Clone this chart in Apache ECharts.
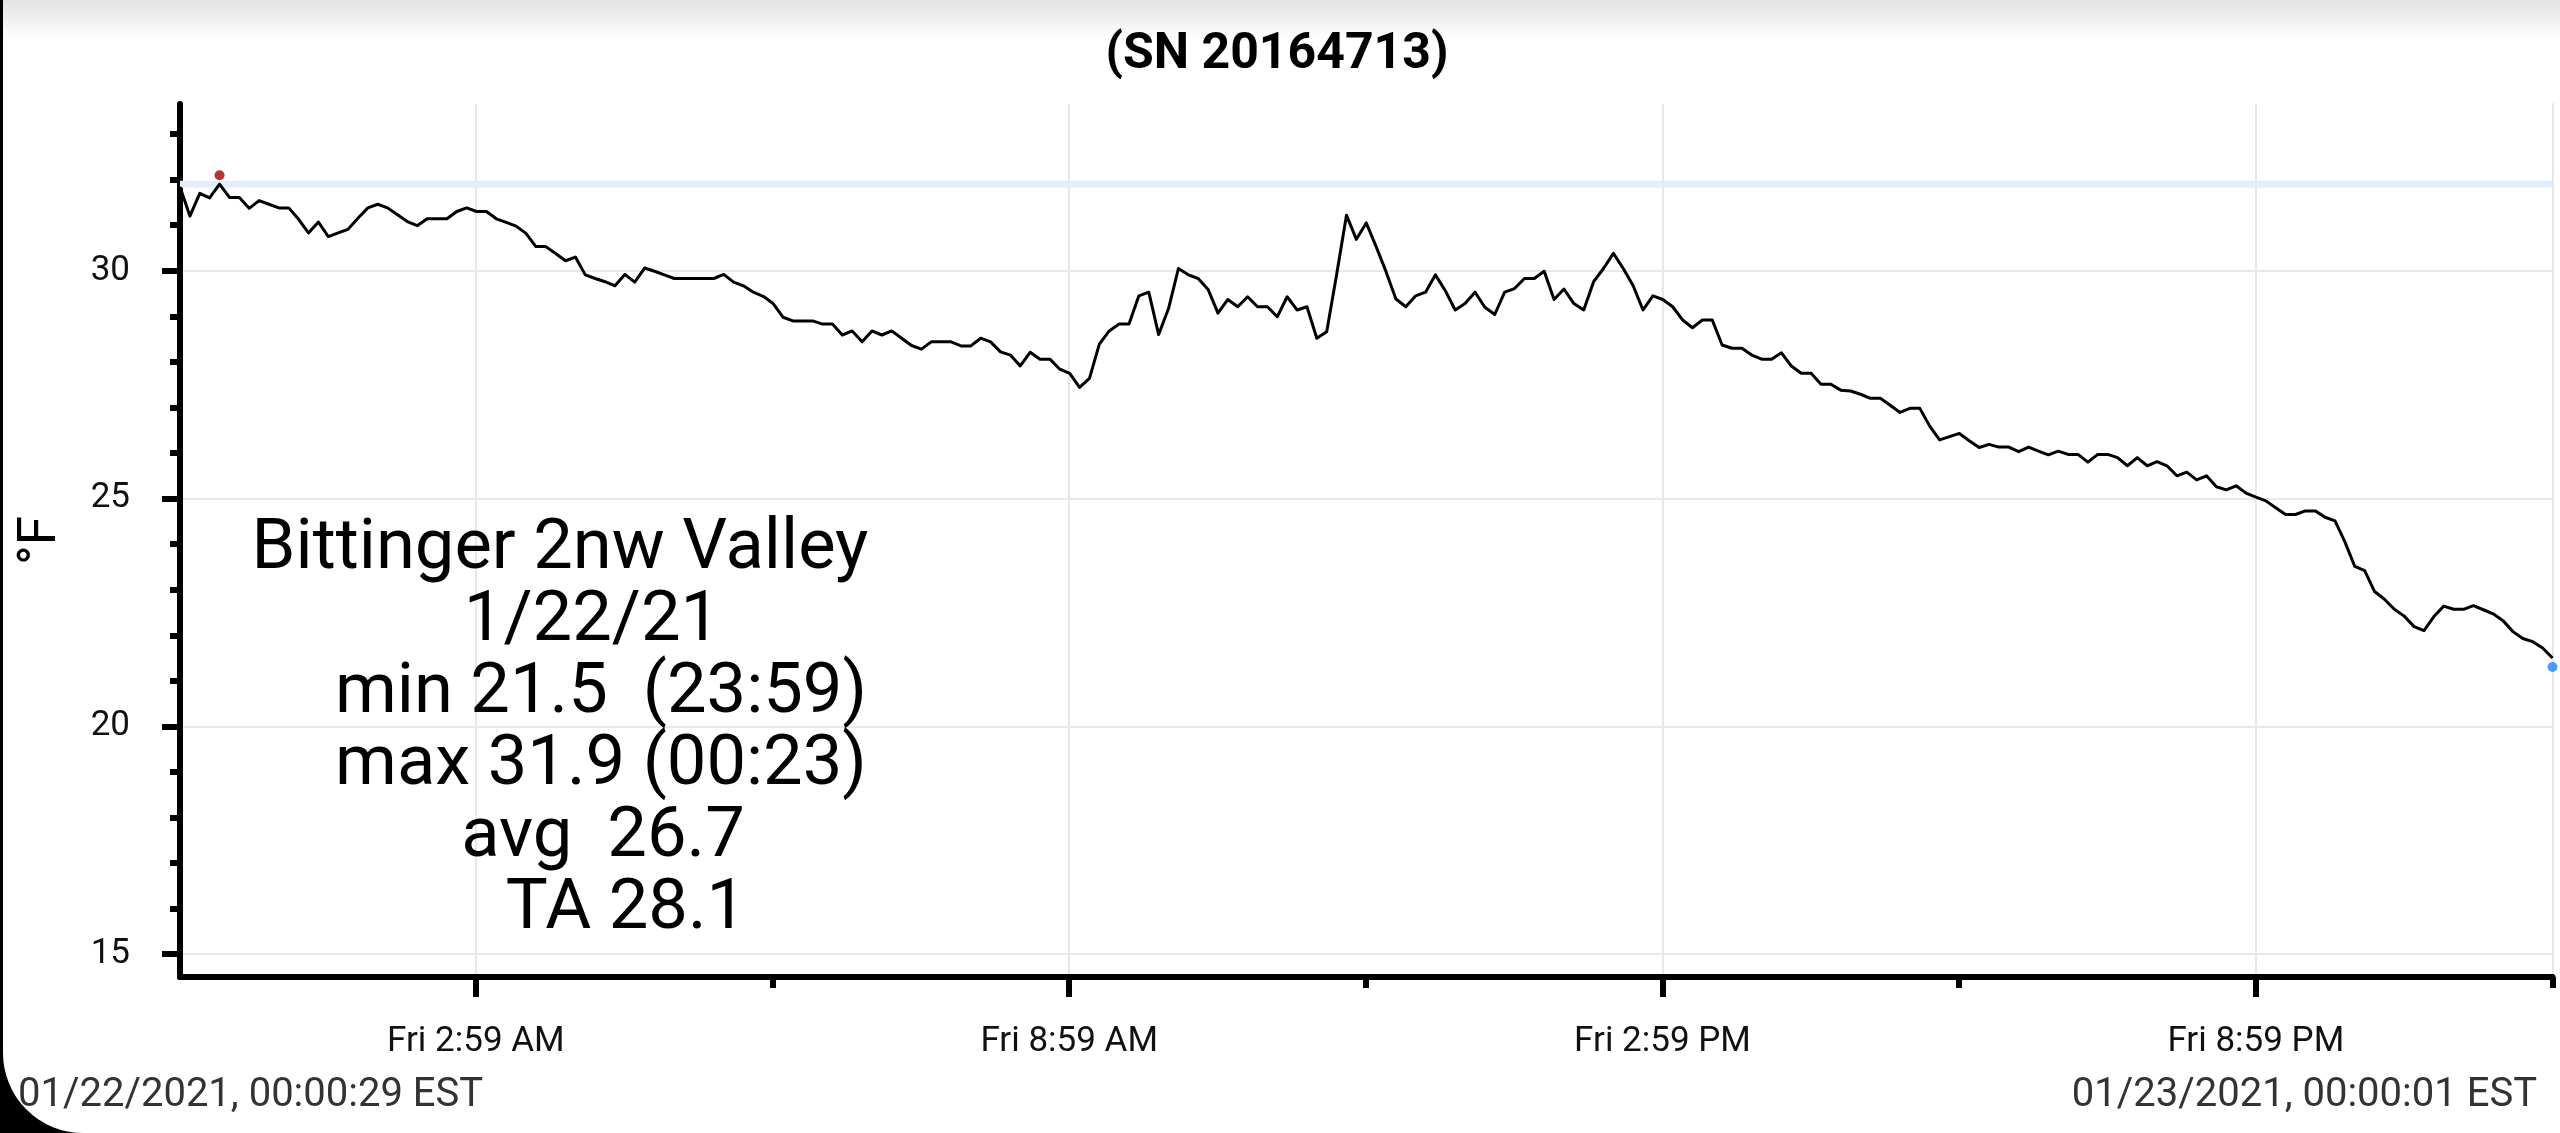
<!DOCTYPE html>
<html>
<head>
<meta charset="utf-8">
<script src="https://cdn.jsdelivr.net/npm/echarts@6/dist/echarts.min.js"></script>
<style>
html,body{margin:0;padding:0;width:2560px;height:1133px;background:#000;overflow:hidden;}
#card{position:absolute;left:3px;top:0;width:2557px;height:1133px;background:#fff;border-bottom-left-radius:80px;}
#shade{position:absolute;left:3px;top:0;width:2557px;height:40px;background:linear-gradient(#e2e2e2,#ffffff);}
#chart{position:absolute;left:0;top:0;width:2560px;height:1133px;}
</style>
</head>
<body>
<div id="card"></div>
<div id="shade"></div>
<div id="chart"></div>
<script>
// ---- data ----
const TITLE = '(SN 20164713)';
const START_LABEL = '01/22/2021, 00:00:29 EST';
const END_LABEL = '01/23/2021, 00:00:01 EST';
const T_START = 29 / 60;          // minutes after midnight, 01/22 00:00:29
const T_END = 1440 + 1 / 60;      // 01/23 00:00:01
const TEMPS = [
  31.84, 31.20, 31.70, 31.60, 31.90, 31.61, 31.61, 31.37, 31.54, 31.46,
  31.38, 31.38, 31.13, 30.83, 31.07, 30.75, 30.83, 30.91, 31.15, 31.38,
  31.46, 31.38, 31.23, 31.08, 30.99, 31.14, 31.14, 31.14, 31.30, 31.38,
  31.30, 31.30, 31.14, 31.06, 30.98, 30.82, 30.53, 30.53, 30.38, 30.22,
  30.30, 29.91, 29.83, 29.76, 29.67, 29.92, 29.75, 30.06, 29.99, 29.91,
  29.83, 29.83, 29.83, 29.83, 29.83, 29.92, 29.75, 29.67, 29.53, 29.44,
  29.28, 28.98, 28.90, 28.90, 28.90, 28.83, 28.83, 28.59, 28.68, 28.44,
  28.68, 28.59, 28.68, 28.52, 28.36, 28.28, 28.44, 28.44, 28.44, 28.35,
  28.35, 28.52, 28.44, 28.22, 28.15, 27.91, 28.21, 28.06, 28.06, 27.84,
  27.75, 27.44, 27.64, 28.39, 28.68, 28.83, 28.83, 29.45, 29.53, 28.60,
  29.17, 30.05, 29.91, 29.83, 29.59, 29.07, 29.37, 29.21, 29.43, 29.21,
  29.21, 28.99, 29.43, 29.14, 29.21, 28.52, 28.66, 29.91, 31.22, 30.69,
  31.05, 30.53, 29.98, 29.38, 29.21, 29.45, 29.53, 29.91, 29.56, 29.14,
  29.28, 29.53, 29.20, 29.04, 29.53, 29.61, 29.83, 29.83, 29.99, 29.37,
  29.60, 29.28, 29.14, 29.76, 30.05, 30.38, 30.05, 29.67, 29.14, 29.45,
  29.37, 29.21, 28.92, 28.75, 28.92, 28.92, 28.37, 28.30, 28.30, 28.15,
  28.06, 28.06, 28.20, 27.91, 27.75, 27.75, 27.51, 27.51, 27.38, 27.36,
  27.29, 27.20, 27.20, 27.05, 26.89, 26.98, 26.98, 26.59, 26.29, 26.36,
  26.43, 26.27, 26.12, 26.19, 26.13, 26.13, 26.03, 26.13, 26.04, 25.96,
  26.04, 25.97, 25.97, 25.80, 25.97, 25.97, 25.90, 25.72, 25.90, 25.72,
  25.81, 25.72, 25.50, 25.58, 25.41, 25.50, 25.26, 25.19, 25.28, 25.12,
  25.03, 24.95, 24.80, 24.65, 24.65, 24.73, 24.73, 24.59, 24.51, 24.05,
  23.51, 23.42, 22.96, 22.79, 22.57, 22.42, 22.19, 22.10, 22.41, 22.64,
  22.57, 22.57, 22.65, 22.56, 22.47, 22.32, 22.08, 21.93, 21.86, 21.72,
  21.50
];
const Y_MIN = 14.5;
const Y_MAX = 33.66;
const Y_MAJOR = [15, 20, 25, 30];
const Y_MINOR = [15, 16, 17, 18, 19, 20, 21, 22, 23, 24, 25, 26, 27, 28, 29, 30, 31, 32, 33];
const X_MAJOR = [180, 540, 900, 1260];
const X_LABELS = ['Fri 2:59 AM', 'Fri 8:59 AM', 'Fri 2:59 PM', 'Fri 8:59 PM'];
const X_MINOR = [360, 720, 1080, 1440];
const Y_NAME = '°F';
const STATS = ['Bittinger 2nw Valley', '1/22/21', 'min 21.5  (23:59)', 'max 31.9 (00:23)', 'avg  26.7', 'TA 28.1'];

// ---- derived ----
const STEP = (T_END - T_START) / (TEMPS.length - 1);
const series = TEMPS.map((v, i) => [T_START + i * STEP, v]);
const maxV = Math.max(...TEMPS), minV = Math.min(...TEMPS);
const maxPt = series[TEMPS.indexOf(maxV)];
const minPt = series[TEMPS.lastIndexOf(minV)];

const FONT = 'Roboto';
const statX = [560, 592, 601, 601, 603, 626];
const statGraphics = STATS.map((t, k) => ({
  type: 'text', x: statX[k], y: 550 + k * 72, silent: true, z: 100,
  style: { text: t, fontSize: 70.5, fontFamily: FONT, fill: '#000', align: 'center', verticalAlign: 'middle' }
}));

const chart = echarts.init(document.getElementById('chart'), null, { renderer: 'canvas' });
const tickStyle = { color: '#000', width: 6 };
chart.setOption({
  backgroundColor: 'transparent',
  animation: false,
  grid: { left: 180, top: 104, right: 7.5, bottom: 156, containLabel: false, outerBoundsMode: 'none' },
  xAxis: [
    {
      type: 'value', min: T_START, max: T_END, position: 'bottom',
      axisLine: { show: true, onZero: false, lineStyle: { color: '#000', width: 6 } },
      axisTick: { show: true, customValues: X_MAJOR, length: 20, lineStyle: tickStyle },
      axisLabel: {
        show: true, customValues: X_MAJOR, margin: 48, fontSize: 35, fontFamily: FONT, color: '#111',
        formatter: v => { const k = X_MAJOR.findIndex(m => Math.abs(m - v) < 1); return k >= 0 ? X_LABELS[k] : ''; }
      },
      splitLine: { show: true, lineStyle: { color: '#e8e8e8', width: 2 } }
    },
    {
      type: 'value', min: T_START, max: T_END, position: 'bottom', offset: 0,
      axisLine: { show: false },
      axisTick: { show: true, customValues: X_MINOR, length: 11, lineStyle: tickStyle },
      axisLabel: { show: false },
      splitLine: { show: false }
    }
  ],
  yAxis: [
    {
      type: 'value', min: Y_MIN, max: Y_MAX, position: 'left',
      name: Y_NAME, nameLocation: 'middle', nameGap: 112, nameRotate: 90,
      nameTextStyle: { fontSize: 53, fontFamily: FONT, color: '#000' },
      axisLine: { show: true, onZero: false, lineStyle: { color: '#000', width: 6 } },
      axisTick: { show: true, customValues: Y_MAJOR, length: 18, lineStyle: tickStyle },
      axisLabel: { show: true, customValues: Y_MAJOR, margin: 50, fontSize: 35, fontFamily: FONT, color: '#111' },
      splitLine: { show: true, lineStyle: { color: '#e8e8e8', width: 2 } }
    },
    {
      type: 'value', min: Y_MIN, max: Y_MAX, position: 'left', offset: 0,
      axisLine: { show: false },
      axisTick: { show: true, customValues: Y_MINOR, length: 10, lineStyle: tickStyle },
      axisLabel: { show: false },
      splitLine: { show: false }
    },
    {
      type: 'value', min: Y_MIN, max: Y_MAX, position: 'right',
      axisLine: { show: true, onZero: false, lineStyle: { color: '#e6e6e6', width: 2 } },
      axisTick: { show: false }, axisLabel: { show: false }, splitLine: { show: false }
    }
  ],
  series: [
    {
      type: 'line', name: 'maxband', silent: true, z: 1, symbol: 'none',
      data: [[T_START, maxV], [T_END, maxV]],
      lineStyle: { color: '#e3eefc', width: 7 }
    },
    {
      type: 'line', name: 'temp', z: 3, showSymbol: false, symbol: 'none',
      data: series,
      lineStyle: { color: '#000', width: 3, join: 'round' }
    },
    {
      type: 'scatter', name: 'max', z: 4, clip: false, symbolSize: 10, symbolOffset: [0, -9],
      data: [maxPt], itemStyle: { color: '#a80000' }
    },
    {
      type: 'scatter', name: 'min', z: 4, clip: false, symbolSize: 10, symbolOffset: [0, 9],
      data: [minPt], itemStyle: { color: '#1a85ff' }
    }
  ],
  graphic: [
    { type: 'text', x: 1277, y: 55, silent: true, z: 100,
      style: { text: TITLE, fontSize: 50, fontWeight: 'bold', fontFamily: FONT, fill: '#000', align: 'center', verticalAlign: 'middle' } },
    { type: 'text', x: 18, y: 1096, silent: true, z: 100,
      style: { text: START_LABEL, fontSize: 40, fontFamily: FONT, fill: '#333', align: 'left', verticalAlign: 'middle' } },
    { type: 'text', x: 2537, y: 1096, silent: true, z: 100,
      style: { text: END_LABEL, fontSize: 40, fontFamily: FONT, fill: '#333', align: 'right', verticalAlign: 'middle' } }
  ].concat(statGraphics)
});
</script>
</body>
</html>
